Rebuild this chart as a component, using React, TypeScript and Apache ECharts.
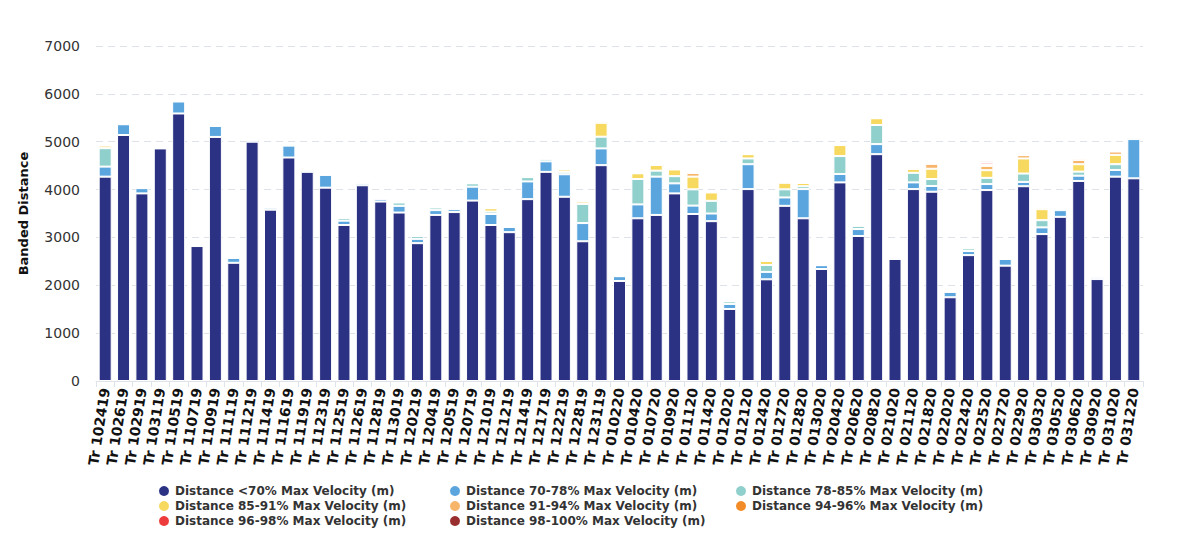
import React, { useEffect, useRef } from "react";
import * as echarts from "echarts";

const categories = [
  "Tr 102419", "Tr 102619", "Tr 102919", "Tr 103119", "Tr 110519", "Tr 110719", "Tr 110919", "Tr 111119",
  "Tr 111219", "Tr 111419", "Tr 111619", "Tr 111919", "Tr 112319", "Tr 112519", "Tr 112619", "Tr 112819",
  "Tr 113019", "Tr 120219", "Tr 120419", "Tr 120519", "Tr 120719", "Tr 121019", "Tr 121219", "Tr 121419",
  "Tr 121719", "Tr 122219", "Tr 122819", "Tr 123119", "Tr 010220", "Tr 010420", "Tr 010720", "Tr 010920",
  "Tr 011120", "Tr 011420", "Tr 012020", "Tr 012120", "Tr 012420", "Tr 012720", "Tr 012820", "Tr 013020",
  "Tr 020420", "Tr 020620", "Tr 020820", "Tr 021020", "Tr 021120", "Tr 021820", "Tr 022020", "Tr 022420",
  "Tr 022520", "Tr 022720", "Tr 022920", "Tr 030320", "Tr 030520", "Tr 030620", "Tr 030920", "Tr 031020",
  "Tr 031220",
];

const below70 = [
  4270, 5140, 3920, 4860, 5590, 2820, 5100, 2470, 5000, 3580, 4670, 4370, 4040, 3260, 4090, 3750,
  3520, 2880, 3470, 3530, 3770, 3260, 3110, 3800, 4370, 3850, 2920, 4510, 2090, 3400, 3470, 3920,
  3490, 3340, 1505, 4010, 2125, 3660, 3400, 2340, 4150, 3030, 4740, 2550, 4010, 3955, 1750, 2630,
  3990, 2410, 4070, 3070, 3430, 4180, 2130, 4270, 4235,
];
const v70to78 = [
  210, 225, 110, 30, 250, 30, 230, 100, 35, 40, 250, 40, 270, 90, 40, 50,
  140, 90, 100, 60, 290, 230, 110, 370, 220, 470, 380, 350, 100, 290, 800, 210,
  175, 160, 105, 520, 155, 175, 610, 80, 175, 145, 210, 40, 140, 120, 115, 85,
  125, 140, 90, 140, 140, 110, 45, 140, 820,
];
const v78to85 = [
  385, 15, 0, 15, 0, 10, 0, 0, 15, 10, 0, 10, 0, 60, 20, 20,
  70, 60, 55, 15, 70, 50, 0, 90, 55, 50, 400, 245, 0, 530, 125, 150,
  340, 265, 55, 120, 145, 170, 60, 0, 375, 70, 400, 10, 200, 145, 0, 55,
  130, 0, 175, 150, 35, 85, 10, 120, 35,
];
const v85to91 = [
  55, 0, 0, 0, 0, 0, 0, 0, 0, 0, 0, 0, 0, 0, 0, 0,
  0, 0, 0, 0, 0, 70, 0, 0, 0, 50, 50, 290, 0, 120, 120, 140,
  265, 175, 0, 90, 85, 140, 70, 0, 230, 0, 140, 0, 85, 215, 0, 0,
  160, 0, 315, 230, 0, 155, 0, 195, 0,
];
const v91to94 = [
  0, 0, 0, 0, 0, 0, 0, 0, 0, 0, 0, 0, 0, 0, 0, 0,
  0, 0, 0, 0, 0, 0, 0, 0, 0, 0, 0, 40, 0, 0, 0, 0,
  80, 0, 0, 0, 0, 0, 0, 0, 0, 0, 0, 0, 0, 105, 0, 0,
  90, 0, 70, 35, 0, 90, 0, 70, 0,
];
const v94to96 = [
  0, 0, 0, 0, 0, 0, 0, 0, 0, 0, 0, 0, 0, 0, 0, 0,
  0, 0, 0, 0, 0, 0, 0, 0, 0, 0, 0, 0, 0, 0, 0, 0,
  0, 0, 0, 0, 0, 0, 0, 0, 0, 0, 0, 0, 0, 0, 0, 0,
  30, 0, 0, 0, 0, 35, 0, 0, 0,
];
const v96to98 = [
  0, 0, 0, 0, 0, 0, 0, 0, 0, 0, 0, 0, 0, 0, 0, 0,
  0, 0, 0, 0, 0, 0, 0, 0, 0, 0, 0, 0, 0, 0, 0, 0,
  0, 0, 0, 0, 0, 0, 0, 0, 0, 0, 0, 0, 0, 0, 0, 0,
  40, 0, 0, 0, 0, 0, 0, 0, 0,
];
const v98to100 = [
  0, 0, 0, 0, 0, 0, 0, 0, 0, 0, 0, 0, 0, 0, 0, 0,
  0, 0, 0, 0, 0, 0, 0, 0, 0, 0, 0, 0, 0, 0, 0, 0,
  0, 0, 0, 0, 0, 0, 0, 0, 0, 0, 0, 0, 0, 0, 0, 0,
  35, 0, 0, 0, 0, 0, 0, 0, 0,
];

const seriesNames = [
  "Distance <70% Max Velocity (m)",
  "Distance 70-78% Max Velocity (m)",
  "Distance 78-85% Max Velocity (m)",
  "Distance 85-91% Max Velocity (m)",
  "Distance 91-94% Max Velocity (m)",
  "Distance 94-96% Max Velocity (m)",
  "Distance 96-98% Max Velocity (m)",
  "Distance 98-100% Max Velocity (m)",
];
const seriesData = [below70, v70to78, v78to85, v85to91, v91to94, v94to96, v96to98, v98to100];
const seriesColors = ["#2b3283", "#5aa5de", "#8fcfcc", "#f6d95e", "#f7b56a", "#f28c28", "#ee3b3b", "#992e2e"];

const yTicks = [0, 1000, 2000, 3000, 4000, 5000, 6000, 7000];

export default function App() {
  const ref = useRef<HTMLDivElement>(null);

  useEffect(() => {
    if (!ref.current) return;
    const chart = echarts.init(ref.current, null, { renderer: "svg" });
    const font = "'DejaVu Sans', 'Noto Sans', sans-serif";
    const legendCol = (names: string[], left: number) => ({
      data: names,
      orient: "vertical" as const,
      left,
      top: 484,
      padding: 0,
      itemGap: 1,
      itemWidth: 12,
      itemHeight: 12,
      icon: "circle",
      textStyle: { fontFamily: font, fontSize: 12, fontWeight: 600, color: "#333", lineHeight: 14 },
    });
    chart.setOption({
      animation: false,
      backgroundColor: "#ffffff",
      textStyle: { fontFamily: font },
      grid: { left: 96, right: 57, top: 46, bottom: 156 },
      legend: [
        legendCol([seriesNames[0], seriesNames[3], seriesNames[6]], 157),
        legendCol([seriesNames[1], seriesNames[4], seriesNames[7]], 448),
        legendCol([seriesNames[2], seriesNames[5]], 734),
      ],
      xAxis: {
        type: "category",
        data: categories,
        axisLine: { lineStyle: { color: "#dfe3ea" } },
        axisTick: { show: true, length: 6, lineStyle: { color: "#dfe3ea" } },
        axisLabel: {
          interval: 0,
          rotate: 81,
          fontFamily: font,
          fontSize: 14,
          fontWeight: "bold",
          color: "#111",
          margin: 7,
        },
      },
      yAxis: {
        type: "value",
        min: yTicks[0],
        max: yTicks[yTicks.length - 1],
        interval: 1000,
        name: "Banded Distance",
        nameLocation: "middle",
        nameGap: 66,
        nameTextStyle: { fontFamily: font, fontSize: 13, fontWeight: "bold", color: "#111" },
        axisLine: { show: false },
        axisTick: { show: false },
        axisLabel: {
          fontFamily: font,
          fontSize: 14,
          color: "#333",
          margin: 16,
          formatter: (v: number) => String(v),
        },
        splitLine: { lineStyle: { type: [7, 5], color: "#dde1e8", width: 1.2 } },
      },
      series: seriesNames.map((name, i) => ({
        name,
        type: "bar",
        stack: "total",
        barWidth: 13,
        data: seriesData[i],
        itemStyle: { color: seriesColors[i], borderColor: "#ffffff", borderWidth: 1 },
      })),
    });
    return () => chart.dispose();
  }, []);

  return (
    <div
      style={{
        position: "fixed",
        left: 0,
        top: 0,
        width: 1200,
        height: 537,
        background: "#fff",
      }}
    >
      <div
        style={{
          position: "absolute",
          left: 2,
          top: -2,
          width: 1194,
          height: 539,
          border: "1px solid #e6e6e6",
          boxSizing: "border-box",
        }}
      />
      <div ref={ref} style={{ position: "absolute", left: 0, top: 0, width: 1200, height: 537 }} />
    </div>
  );
}
